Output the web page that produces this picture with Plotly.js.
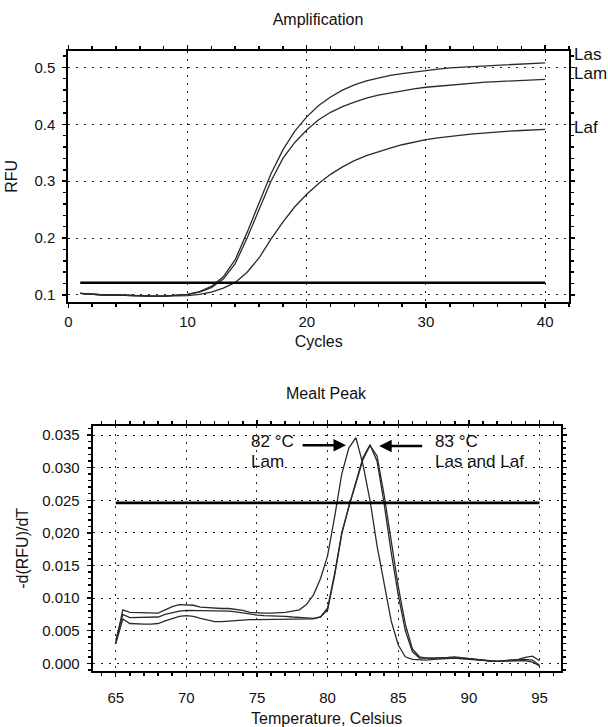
<!DOCTYPE html>
<html>
<head>
<meta charset="utf-8">
<script src="https://cdn.plot.ly/plotly-3.0.1.min.js"></script>
<style>html,body{margin:0;padding:0;background:#fff;}#chart{width:608px;height:727px;}</style>
</head>
<body>
<div id="chart"></div>
<script>
// ---------- Amplification data ----------
const cycles = [1,2,3,4,5,6,7,8,9,10,11,12,13,14,15,16,17,18,19,20,21,22,23,24,25,26,27,28,29,30,31,32,33,34,35,36,37,38,39,40];
const ampLas = [0.103,0.101,0.100,0.100,0.099,0.098,0.098,0.098,0.099,0.101,0.106,0.115,0.132,0.162,0.210,0.262,0.313,0.355,0.388,0.413,0.433,0.448,0.460,0.469,0.476,0.481,0.486,0.489,0.492,0.494,0.497,0.499,0.500,0.502,0.503,0.504,0.505,0.506,0.507,0.508];
const ampLam = [0.103,0.101,0.100,0.100,0.099,0.098,0.098,0.098,0.099,0.101,0.105,0.113,0.128,0.155,0.200,0.250,0.300,0.340,0.368,0.390,0.408,0.421,0.431,0.439,0.446,0.451,0.455,0.459,0.462,0.465,0.467,0.469,0.471,0.473,0.474,0.475,0.476,0.477,0.478,0.479];
const ampLaf = [0.103,0.101,0.100,0.100,0.099,0.098,0.098,0.098,0.098,0.099,0.101,0.105,0.112,0.122,0.140,0.165,0.198,0.228,0.255,0.277,0.296,0.312,0.325,0.336,0.345,0.352,0.358,0.364,0.369,0.373,0.376,0.379,0.381,0.383,0.385,0.387,0.388,0.389,0.390,0.391];
const ampThresholdX = [1, 40];
const ampThresholdY = [0.1216, 0.1216];
const ampYTicks = [0.1, 0.2, 0.3, 0.4, 0.5];
const ampYTickText = ["0.1", "0.2", "0.3", "0.4", "0.5"];
const ampXTicks = [0, 10, 20, 30, 40];
const ampXTickText = ["0", "10", "20", "30", "40"];
const seriesNames = ["Las", "Lam", "Laf"];

// ---------- Melt peak data ----------
const temps = [65.0,65.5,66.0,66.5,67.0,67.5,68.0,68.5,69.0,69.5,70.0,70.5,71.0,71.5,72.0,72.5,73.0,73.5,74.0,74.5,75.0,75.5,76.0,76.5,77.0,77.5,78.0,78.5,79.0,79.5,80.0,80.5,81.0,81.5,82.0,82.5,83.0,83.5,84.0,84.5,85.0,85.5,86.0,86.5,87.0,87.5,88.0,88.5,89.0,89.5,90.0,90.5,91.0,91.5,92.0,92.5,93.0,93.5,94.0,94.5,95.0];
const meltLam = [0.0030,0.0082,0.0078,0.0078,0.0078,0.0078,0.0077,0.0082,0.0087,0.0090,0.0090,0.0089,0.0086,0.0085,0.0084,0.0084,0.0084,0.0083,0.0081,0.0078,0.0077,0.0077,0.0077,0.0077,0.0078,0.0080,0.0082,0.0090,0.0105,0.0130,0.0165,0.0225,0.0290,0.0330,0.0346,0.0305,0.0250,0.0180,0.0120,0.0065,0.0028,0.0010,0.0006,0.0005,0.0005,0.0006,0.0007,0.0008,0.0008,0.0007,0.0006,0.0005,0.0004,0.0003,0.0003,0.0004,0.0005,0.0006,0.0009,0.0011,0.0004];
const meltLas = [0.0035,0.0075,0.0070,0.0070,0.0070,0.0070,0.0071,0.0075,0.0078,0.0080,0.0081,0.0081,0.0080,0.0080,0.0081,0.0081,0.0080,0.0079,0.0077,0.0075,0.0074,0.0073,0.0073,0.0073,0.0072,0.0071,0.0070,0.0069,0.0069,0.0071,0.0082,0.0135,0.0198,0.0240,0.0278,0.0315,0.0335,0.0310,0.0245,0.0170,0.0105,0.0050,0.0018,0.0008,0.0008,0.0008,0.0009,0.0009,0.0009,0.0008,0.0007,0.0006,0.0004,0.0003,0.0003,0.0004,0.0005,0.0005,0.0006,0.0005,-0.0003];
const meltLaf = [0.0030,0.0068,0.0061,0.0060,0.0060,0.0060,0.0061,0.0065,0.0069,0.0072,0.0073,0.0072,0.0069,0.0066,0.0064,0.0064,0.0065,0.0066,0.0066,0.0067,0.0067,0.0067,0.0067,0.0068,0.0068,0.0068,0.0068,0.0068,0.0068,0.0071,0.0085,0.0138,0.0200,0.0240,0.0278,0.0312,0.0334,0.0318,0.0258,0.0185,0.0118,0.0060,0.0022,0.0010,0.0008,0.0008,0.0008,0.0009,0.0010,0.0009,0.0007,0.0006,0.0005,0.0003,0.0003,0.0004,0.0004,0.0004,0.0004,0.0002,-0.0004];
const meltThresholdX = [65, 95];
const meltThresholdY = [0.0246, 0.0246];
const meltYTicks = [0.000, 0.005, 0.010, 0.015, 0.020, 0.025, 0.030, 0.035];
const meltYTickText = ["0.000", "0.005", "0.010", "0.015", "0,020", "0.025", "0.030", "0.035"];
const meltXTicks = [65, 70, 75, 80, 85, 90, 95];
const meltXTickText = ["65", "70", "75", "80", "85", "90", "95"];

const FONT = "Liberation Sans, Arial, sans-serif";
const curve = {color: "#2a2a2a", width: 1.3};
const thick = {color: "#000000", width: 2.6};

const traces = [
  {x: cycles, y: ampLas, name: seriesNames[0], mode: "lines", line: curve, xaxis: "x", yaxis: "y"},
  {x: cycles, y: ampLam, name: seriesNames[1], mode: "lines", line: curve, xaxis: "x", yaxis: "y"},
  {x: cycles, y: ampLaf, name: seriesNames[2], mode: "lines", line: curve, xaxis: "x", yaxis: "y"},
  {x: ampThresholdX, y: ampThresholdY, name: "Threshold", mode: "lines", line: thick, xaxis: "x", yaxis: "y"},
  {x: temps, y: meltLam, name: seriesNames[1], mode: "lines", line: curve, xaxis: "x2", yaxis: "y2"},
  {x: temps, y: meltLas, name: seriesNames[0], mode: "lines", line: curve, xaxis: "x2", yaxis: "y2"},
  {x: temps, y: meltLaf, name: seriesNames[2], mode: "lines", line: curve, xaxis: "x2", yaxis: "y2"},
  {x: meltThresholdX, y: meltThresholdY, name: "Threshold", mode: "lines", line: thick, xaxis: "x2", yaxis: "y2"}
];

const axisBase = {
  showline: true, linecolor: "#000", linewidth: 2, mirror: "allticks",
  ticks: "outside", ticklen: 4, tickwidth: 1.5, tickcolor: "#000",
  showgrid: true, gridcolor: "#222", gridwidth: 1, griddash: "2px,6px",
  zeroline: false, tickfont: {family: FONT, size: 15, color: "#111"},
  fixedrange: true
};
const titleFont = {family: FONT, size: 16, color: "#111"};
const annFont = {family: FONT, size: 17, color: "#111"};

const layout = {
  width: 608, height: 727,
  margin: {l: 0, r: 0, t: 0, b: 0},
  paper_bgcolor: "#fff", plot_bgcolor: "#fff",
  showlegend: false,
  font: {family: FONT, color: "#111"},
  title: {text: "Amplification", x: 318/608, xanchor: "center", y: 1 - 19/727, yanchor: "middle", font: titleFont},
  xaxis: Object.assign({}, axisBase, {
    domain: [68.3/608, 569/608], range: [0, 42],
    tickmode: "array", tickvals: ampXTicks, ticktext: ampXTickText,
    minor: {dtick: 2, ticks: "outside", ticklen: 3, tickcolor: "#000", showgrid: false},
    ticklabelstandoff: 1,
    title: {text: "Cycles", standoff: 7, font: titleFont},
    anchor: "y"
  }),
  yaxis: Object.assign({}, axisBase, {
    domain: [1 - 301.7/727, 1 - 51/727], range: [0.0882, 0.5287],
    tickmode: "array", tickvals: ampYTicks, ticktext: ampYTickText,
    minor: {dtick: 0.02, tick0: 0.1, ticks: "outside", ticklen: 3, tickcolor: "#000", showgrid: false},
    ticklabelstandoff: 4,
    title: {text: "RFU", standoff: 13, font: titleFont},
    anchor: "x"
  }),
  xaxis2: Object.assign({}, axisBase, {
    domain: [92.7/608, 560.7/608], range: [63.37, 96.5],
    tickmode: "array", tickvals: meltXTicks, ticktext: meltXTickText,
    minor: {dtick: 1, tick0: 65, ticks: "outside", ticklen: 3, tickcolor: "#000", showgrid: false},
    ticklabelstandoff: 8,
    title: {text: "Temperature, Celsius", standoff: 11, font: titleFont},
    anchor: "y2"
  }),
  yaxis2: Object.assign({}, axisBase, {
    domain: [1 - 671/727, 1 - 425.7/727], range: [-0.00118, 0.03643],
    tickmode: "array", tickvals: meltYTicks, ticktext: meltYTickText,
    minor: {dtick: 0.001, tick0: 0, ticks: "outside", ticklen: 3, tickcolor: "#000", showgrid: false},
    ticklabelstandoff: 4,
    title: {text: "-d(RFU)/dT", standoff: 10, font: titleFont},
    anchor: "x2"
  }),
  annotations: [
    {text: "Mealt Peak", xref: "paper", yref: "paper", x: 326.5/608, y: 1 - 393/727, xanchor: "center", yanchor: "middle", showarrow: false, font: titleFont},
    {text: "Las", xref: "paper", yref: "y", x: 572/608, y: 0.5234, xanchor: "left", yanchor: "middle", showarrow: false, font: annFont},
    {text: "Lam", xref: "paper", yref: "y", x: 572/608, y: 0.490, xanchor: "left", yanchor: "middle", showarrow: false, font: annFont},
    {text: "Laf", xref: "paper", yref: "y", x: 572/608, y: 0.3947, xanchor: "left", yanchor: "middle", showarrow: false, font: annFont},
    {text: "82 °C", xref: "x2", yref: "y2", x: 74.42, y: 0.03405, xanchor: "left", yanchor: "middle", showarrow: false, font: annFont},
    {text: "Lam", xref: "x2", yref: "y2", x: 74.42, y: 0.0310, xanchor: "left", yanchor: "middle", showarrow: false, font: annFont},
    {text: "83 °C", xref: "x2", yref: "y2", x: 87.47, y: 0.03405, xanchor: "left", yanchor: "middle", showarrow: false, font: annFont},
    {text: "Las and Laf", xref: "x2", yref: "y2", x: 87.47, y: 0.0310, xanchor: "left", yanchor: "middle", showarrow: false, font: annFont},
    {text: "", xref: "x2", yref: "y2", x: 81.3, y: 0.03344, axref: "x2", ayref: "y2", ax: 78.12, ay: 0.03344, showarrow: true, arrowhead: 2, arrowsize: 1, arrowwidth: 2.5, arrowcolor: "#000"},
    {text: "", xref: "x2", yref: "y2", x: 83.65, y: 0.0333, axref: "x2", ayref: "y2", ax: 86.8, ay: 0.0333, showarrow: true, arrowhead: 2, arrowsize: 1, arrowwidth: 2.5, arrowcolor: "#000"}
  ]
};

Plotly.newPlot("chart", traces, layout, {staticPlot: true, displayModeBar: false});
</script>
</body>
</html>
